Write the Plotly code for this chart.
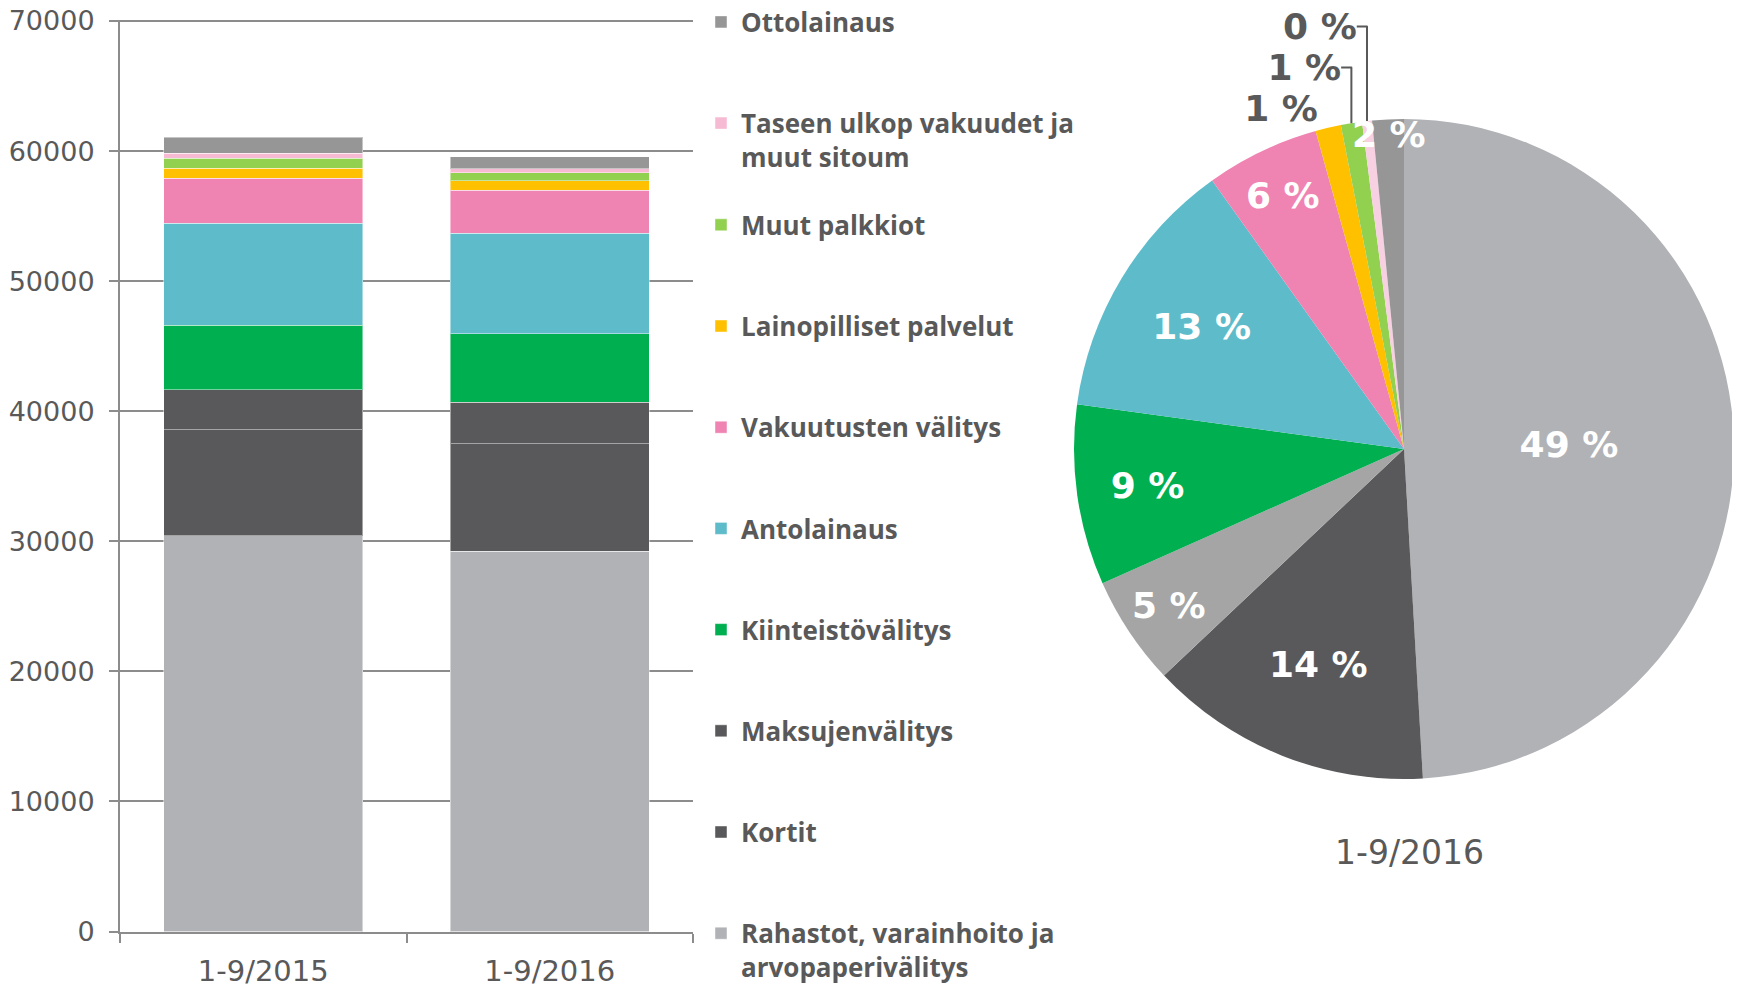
import plotly.graph_objects as go

# Periods on the x axis of the bar chart
periods = ['1-9/2015', '1-9/2016']

# Series from the bottom of the stack to the top
series_names = [
    'Rahastot, varainhoito ja<br>arvopaperivälitys',
    'Kortit',
    'Maksujenvälitys',
    'Kiinteistövälitys',
    'Antolainaus',
    'Vakuutusten välitys',
    'Lainopilliset palvelut',
    'Muut palkkiot',
    'Taseen ulkop vakuudet ja<br>muut sitoum',
    'Ottolainaus',
]

rahastot = [30415, 29230]
kortit = [8150, 8260]
maksujenvalitys = [3080, 3200]
kiinteistovalitys = [4970, 5260]
antolainaus = [7820, 7715]
vakuutukset = [3480, 3310]
lainopilliset = [770, 745]
muut_palkkiot = [750, 615]
taseen_ulkop = [385, 290]
ottolainaus = [1230, 920]

series_values = [rahastot, kortit, maksujenvalitys, kiinteistovalitys, antolainaus,
                 vakuutukset, lainopilliset, muut_palkkiot, taseen_ulkop, ottolainaus]

bar_colors = ['#B1B2B6', '#59595B', '#59595B', '#00AF50', '#5DBBCA',
              '#EF84B3', '#FFC000', '#92D050', '#F7BAD3', '#969696']
pie_colors = ['#B1B2B6', '#59595B', '#A5A5A5', '#00AF50', '#5DBBCA',
              '#EF84B3', '#FFC000', '#92D050', '#F7D0E1', '#969696']

pie_title = '1-9/2016'
y_ticks = [0, 10000, 20000, 30000, 40000, 50000, 60000, 70000]

# The page body has an 8px margin at the top left, so the figure is shifted by that
PAD = 8
W, H = 1740 - PAD, 989 - PAD
GRAY = '#595959'
AXIS = '#8C8C8C'
TICK_FONT = 'DejaVu Sans, Verdana, sans-serif'


def fx(px):
    # window pixel -> paper x
    return (px - PAD) / W


def fy(py):
    # window pixel (from top) -> paper y
    return 1 - (py - PAD) / H


fig = go.Figure()

# Stacked bars; the two top legend entries go to their own legend box
n = len(series_names)
for i, (name, vals, col) in enumerate(zip(series_names, series_values, bar_colors)):
    fig.add_trace(go.Bar(
        x=periods,
        y=vals,
        name=name,
        marker=dict(color=col, line=dict(color='rgba(255,255,255,0.45)', width=1)),
        legend='legend' if i >= 8 else 'legend2',
        legendgroup=str(i),
        legendrank=n - i,
    ))

# Pie of the latest period
pie_vals = [v[1] for v in series_values]
total = sum(pie_vals)
pie_text = [f"{round(100 * v / total)} %" for v in pie_vals]
pie_pos = ['inside'] * 6 + ['outside'] * 3 + ['inside']

fig.add_trace(go.Pie(
    values=pie_vals,
    labels=[s.replace('<br>', ' ') for s in series_names],
    text=pie_text,
    textinfo='text',
    textposition=pie_pos,
    insidetextorientation='horizontal',
    insidetextfont=dict(family=TICK_FONT, size=36, color='white', weight='bold'),
    outsidetextfont=dict(family=TICK_FONT, size=36, color=GRAY, weight='bold'),
    marker=dict(colors=pie_colors, line=dict(width=0)),
    sort=False,
    direction='clockwise',
    rotation=0,
    showlegend=False,
    domain=dict(x=[fx(1074), fx(1734)], y=[fy(779), fy(119)]),
    hoverinfo='label+value+percent',
))

fig.add_annotation(
    text=pie_title, xref='paper', yref='paper',
    x=fx(1409), y=fy(852), xanchor='center', yanchor='middle',
    showarrow=False, font=dict(family=TICK_FONT, size=33, color=GRAY),
)

legend_font = dict(family='Open Sans', size=26, color=GRAY, weight='bold')

fig.update_layout(
    width=W,
    height=H,
    barmode='stack',
    bargap=0.305,
    plot_bgcolor='white',
    paper_bgcolor='white',
    margin=dict(l=0, r=0, t=0, b=0, autoexpand=False),
    uniformtext=dict(mode='show', minsize=36),
    xaxis=dict(
        domain=[fx(120), fx(693)],
        showline=True, linecolor=AXIS, linewidth=2,
        ticks='outside', tickson='boundaries', ticklen=9, tickcolor=AXIS, tickwidth=2,
        tickfont=dict(family=TICK_FONT, size=29, color=GRAY),
        ticklabelstandoff=13,
        automargin=False,
    ),
    yaxis=dict(
        domain=[fy(931.5), fy(19.7)],
        range=[0, 70100],
        tickvals=y_ticks,
        tickformat='d',
        showgrid=True, gridcolor=AXIS, gridwidth=2,
        showline=True, linecolor=AXIS, linewidth=2,
        ticks='outside', ticklen=9, tickcolor=AXIS, tickwidth=2,
        tickfont=dict(family=TICK_FONT, size=27, color=GRAY),
        ticklabelstandoff=9,
        ticklabeloverflow='allow',
        automargin=False,
        zeroline=False,
    ),
    legend=dict(
        x=fx(701), xanchor='left', y=fy(-1.5), yanchor='top',
        traceorder='grouped', tracegroupgap=64.4, valign='top',
        font=legend_font, bgcolor='rgba(0,0,0,0)',
    ),
    legend2=dict(
        x=fx(701), xanchor='left', y=fy(201.4), yanchor='top',
        traceorder='grouped', tracegroupgap=64.4, valign='top',
        font=legend_font, bgcolor='rgba(0,0,0,0)',
    ),
)

fig.write_html("out.html")
